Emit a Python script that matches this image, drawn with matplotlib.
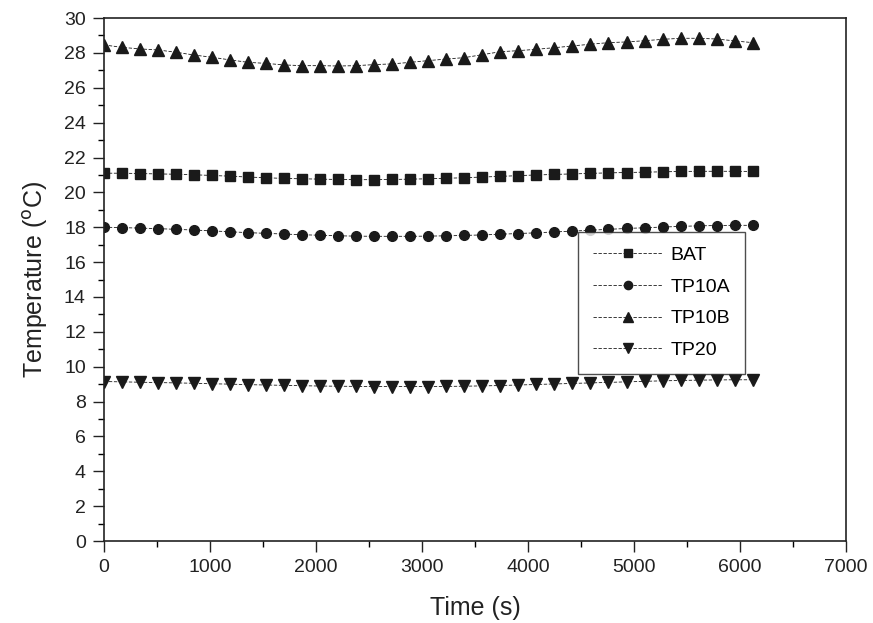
import numpy as np
import matplotlib.pyplot as plt
from matplotlib.ticker import MultipleLocator

plt.rcParams['font.family'] = ['Liberation Sans', 'DejaVu Sans']

# time stamps (s), one marker every ~170 s
time_s = [0, 170, 340, 510, 680, 850, 1020, 1190, 1360, 1530, 1700, 1870,
          2040, 2210, 2380, 2550, 2720, 2890, 3060, 3230, 3400, 3570, 3740,
          3910, 4080, 4250, 4420, 4590, 4760, 4930, 5100, 5270, 5440, 5610,
          5780, 5950, 6120]

bat = [21.10, 21.10, 21.08, 21.06, 21.04, 21.01, 20.97, 20.93, 20.88, 20.84,
       20.80, 20.78, 20.76, 20.74, 20.73, 20.73, 20.74, 20.76, 20.78, 20.81,
       20.84, 20.88, 20.92, 20.96, 21.00, 21.03, 21.06, 21.09, 21.12, 21.14,
       21.16, 21.18, 21.20, 21.21, 21.21, 21.21, 21.20]

tp10a = [18.00, 17.98, 17.95, 17.92, 17.88, 17.84, 17.79, 17.74, 17.69, 17.65,
         17.61, 17.57, 17.54, 17.51, 17.49, 17.48, 17.48, 17.48, 17.49, 17.51,
         17.53, 17.56, 17.60, 17.64, 17.68, 17.73, 17.78, 17.83, 17.88, 17.93,
         17.97, 18.01, 18.05, 18.08, 18.10, 18.11, 18.11]

tp10b = [28.46, 28.32, 28.23, 28.17, 28.04, 27.88, 27.75, 27.60, 27.46, 27.40,
         27.31, 27.27, 27.27, 27.25, 27.27, 27.33, 27.37, 27.46, 27.56, 27.65,
         27.73, 27.90, 28.07, 28.13, 28.21, 28.30, 28.40, 28.50, 28.59, 28.63,
         28.70, 28.78, 28.84, 28.84, 28.80, 28.69, 28.59]

tp20 = [9.15, 9.13, 9.11, 9.09, 9.07, 9.05, 9.02, 9.00, 8.97, 8.95,
        8.93, 8.91, 8.89, 8.88, 8.87, 8.86, 8.86, 8.86, 8.86, 8.87,
        8.88, 8.90, 8.92, 8.95, 8.98, 9.01, 9.04, 9.07, 9.10, 9.13,
        9.16, 9.19, 9.21, 9.23, 9.24, 9.25, 9.25]

series = [('BAT', bat, 's', 6.5), ('TP10A', tp10a, 'o', 7),
          ('TP10B', tp10b, '^', 8), ('TP20', tp20, 'v', 8)]

fig = plt.figure(figsize=(8.73, 6.23), dpi=100)
ax = fig.add_axes([0.119, 0.1316, 0.850, 0.8394])

for name, vals, mk, ms in series:
    ax.plot(time_s, vals, marker=mk, markersize=ms, color='#1a1a1a',
            markerfacecolor='#1a1a1a', markeredgecolor='#1a1a1a',
            linestyle=(0, (4, 2)), linewidth=0.6, label=name)

ax.set_xlim(0, 7000)
ax.set_ylim(0, 30)
ax.xaxis.set_major_locator(MultipleLocator(1000))
ax.xaxis.set_minor_locator(MultipleLocator(500))
ax.yaxis.set_major_locator(MultipleLocator(2))
ax.yaxis.set_minor_locator(MultipleLocator(1))
ax.tick_params(which='major', direction='out', length=8, width=1, labelsize=14,
               colors='#222222', pad=5)
ax.tick_params(which='minor', direction='out', length=4.5, width=1)
for sp in ax.spines.values():
    sp.set_linewidth(1.2)
    sp.set_color('#222222')

ax.set_xlabel('Time (s)', fontsize=18, color='#222222', labelpad=14)
ax.set_ylabel(r'Temperature ($^{\rm o}$C)', fontsize=18, color='#222222',
              labelpad=10)

leg = ax.legend(loc='upper left', bbox_to_anchor=(0.639, 0.591), fontsize=14,
                frameon=True, fancybox=False, edgecolor='#222222',
                borderaxespad=0, handlelength=3.6, handletextpad=0.4,
                borderpad=0.75, labelspacing=0.72, markerscale=0.85)
leg.get_frame().set_linewidth(1.0)

fig.savefig('out.png', dpi=100)
